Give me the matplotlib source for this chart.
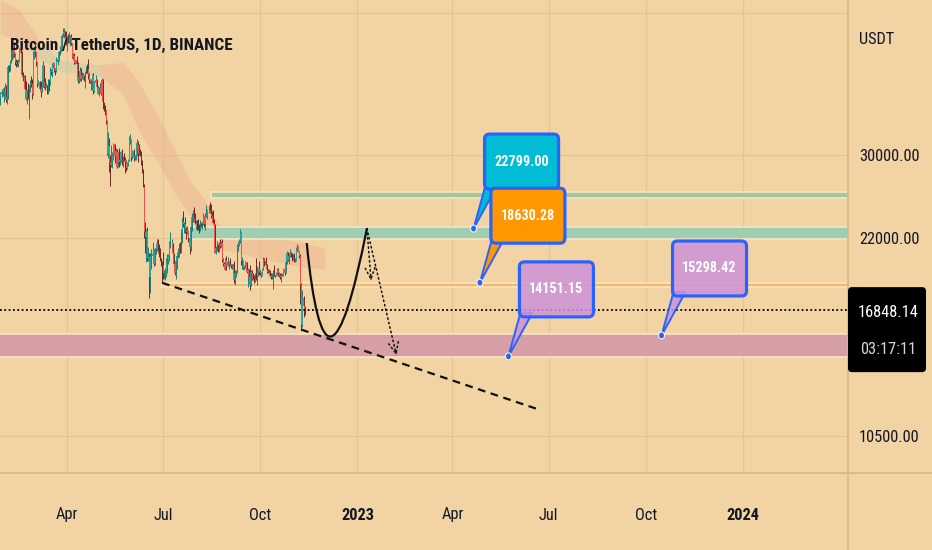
import numpy as np
import pandas as pd
import matplotlib
matplotlib.use("Agg")
import matplotlib.pyplot as plt
import matplotlib.dates as mdates
from matplotlib import font_manager
from matplotlib.colors import to_rgba
from matplotlib.lines import Line2D
from matplotlib.path import Path
from matplotlib.patches import FancyBboxPatch, Polygon, Rectangle, FancyArrowPatch, PathPatch, Ellipse
from matplotlib.ticker import FixedLocator, FixedFormatter, NullLocator
from matplotlib.transforms import IdentityTransform

# ---- daily BTC/USDT candles (thousands USDT), 2022-01-28 .. 2022-11-12 ----
first_open = 37.2
closes = [
    37.7, 37.9, 37.9, 38.5,
    38.7, 36.9, 37.3, 41.6, 41.4, 42.4, 43.8, 44.0, 44.4, 43.6, 42.4, 42.2, 42.1, 42.6,
    44.6, 43.9, 40.5, 40.0, 40.1, 38.4, 37.0, 38.2, 37.3, 38.3, 39.2, 39.1, 37.7, 43.2,
    44.4, 44.0, 42.5, 39.1, 39.4, 38.4, 37.9, 38.7, 41.9, 39.4, 38.7, 38.8, 37.8, 39.7, 39.3, 41.1,
    40.9, 41.8, 42.2, 41.3, 41.0, 42.4, 42.9, 44.0, 44.3, 44.5, 46.8, 47.1, 47.4, 47.1, 45.5,
    46.3, 45.8, 46.4, 46.6, 45.5, 43.2, 43.4, 42.3, 42.8, 42.2, 39.5, 40.1, 41.1, 39.9, 40.5,
    40.4, 39.7, 40.8, 41.5, 41.4, 40.5, 39.7, 39.4, 39.5, 40.4, 38.1, 39.2, 39.7, 38.6, 37.6,
    38.5, 38.5, 37.7, 39.7, 36.5, 36.0, 35.5, 34.0, 30.1, 31.0, 29.1, 28.9, 29.3, 30.1, 31.3, 29.9,
    30.4, 28.7, 30.3, 29.2, 29.4, 30.3, 29.1, 29.7, 29.5, 29.2, 28.6, 29.0, 29.4, 31.7, 31.8,
    29.8, 30.4, 29.7, 29.9, 29.9, 31.4, 31.1, 30.2, 30.1, 29.1, 28.4, 26.6, 22.5, 22.1, 22.6,
    20.4, 20.5, 19.0, 20.6, 20.6, 20.7, 20.0, 21.1, 21.2, 21.5, 21.0, 20.7, 20.3, 20.1, 19.9,
    19.3, 19.3, 19.3, 20.2, 20.2, 20.6, 21.6, 21.6, 21.6, 20.8, 20.0, 19.3, 20.2, 20.6, 20.8, 21.2,
    20.8, 22.4, 23.4, 23.2, 23.2, 22.7, 22.5, 22.6, 22.0, 21.3, 22.9, 23.8, 23.8, 23.6, 23.3,
    23.3, 23.0, 22.8, 22.6, 23.3, 23.2, 23.2, 23.8, 23.2, 23.9, 23.9, 24.4, 24.4, 24.3, 24.1, 23.9,
    23.3, 23.2, 20.8, 21.2, 21.5, 21.4, 21.5, 21.4, 21.6, 20.3, 20.0, 19.6, 20.3, 19.8, 20.1,
    20.1, 19.9, 19.8, 20.0, 19.8, 18.8, 19.3, 19.3, 21.4, 21.6, 21.8, 22.4, 20.2, 20.2, 19.7,
    19.8, 20.1, 19.4, 19.5, 19.0, 18.5, 19.4, 19.3, 18.9, 18.8, 19.2, 19.1, 19.4, 19.6, 19.4,
    19.3, 19.1, 19.6, 20.3, 20.2, 19.9, 19.5, 19.4, 19.4, 19.1, 19.0, 19.2, 19.4, 19.2, 19.1, 19.3,
    19.5, 19.3, 19.1, 19.0, 19.2, 19.2, 19.6, 19.3, 20.1, 20.8, 20.3, 20.6, 20.8, 20.6, 20.5,
    20.5, 20.2, 20.2, 21.1, 21.3, 20.9, 20.6, 18.5, 15.9, 17.6, 17.1, 16.84814,
]
highs = [
    38.0, 38.4, 38.4, 38.7,
    39.3, 38.9, 37.4, 41.9, 41.9, 42.7, 44.5, 45.5, 44.8, 45.8, 43.9, 43.0, 42.8, 42.9,
    44.8, 44.6, 44.2, 40.9, 40.4, 40.4, 39.5, 38.4, 39.3, 38.9, 39.7, 40.3, 39.9, 44.2,
    44.9, 45.4, 44.1, 42.5, 39.7, 39.6, 39.5, 39.4, 42.6, 41.9, 40.0, 39.3, 39.0, 39.9, 39.9, 41.7,
    41.4, 42.3, 42.4, 42.3, 41.5, 43.3, 43.0, 44.2, 45.0, 44.8, 46.9, 48.2, 48.1, 47.7, 47.6,
    46.7, 47.2, 47.4, 46.9, 47.2, 45.5, 43.9, 43.9, 42.8, 43.4, 42.4, 40.7, 41.6, 41.5, 40.9,
    40.7, 40.5, 41.1, 41.8, 42.2, 42.9, 40.8, 39.9, 39.9, 40.6, 40.8, 39.5, 40.4, 39.9, 38.8,
    38.7, 39.2, 38.6, 40.0, 39.8, 36.6, 36.1, 35.5, 34.2, 32.7, 32.0, 30.0, 31.1, 30.3, 31.4, 31.3,
    30.8, 30.7, 30.5, 30.8, 29.6, 30.5, 30.7, 29.9, 30.2, 29.8, 29.4, 29.2, 29.6, 32.2, 32.4,
    31.9, 30.6, 30.7, 30.0, 30.2, 31.8, 31.6, 31.3, 30.7, 30.4, 29.4, 28.5, 26.9, 23.4, 22.8,
    22.9, 21.3, 20.8, 20.8, 21.1, 21.7, 20.9, 21.2, 21.6, 21.9, 21.9, 21.5, 21.2, 20.4, 20.2,
    20.9, 19.5, 19.7, 20.4, 20.7, 20.7, 21.8, 22.5, 21.9, 21.6, 20.8, 20.0, 20.3, 20.9, 21.2, 21.6,
    21.7, 22.8, 23.8, 24.3, 23.4, 23.8, 22.9, 23.0, 22.7, 22.2, 23.0, 24.2, 24.4, 24.7, 24.2,
    23.5, 23.5, 23.6, 23.2, 23.5, 23.4, 23.4, 24.2, 23.9, 24.2, 24.9, 24.5, 24.9, 25.2, 25.0, 24.3,
    24.4, 23.6, 23.2, 21.4, 21.8, 21.5, 21.7, 21.9, 21.8, 21.9, 20.4, 20.1, 20.4, 20.6, 20.5,
    20.2, 20.4, 20.0, 20.0, 20.0, 20.2, 19.5, 19.5, 21.5, 21.8, 21.9, 22.8, 22.5, 20.5, 20.3,
    19.9, 20.2, 20.1, 19.7, 19.6, 19.9, 19.5, 19.5, 19.3, 19.2, 19.3, 20.4, 19.8, 19.7, 20.2,
    19.5, 19.4, 19.7, 20.5, 20.4, 20.5, 20.0, 19.6, 19.6, 19.5, 19.3, 19.3, 19.5, 19.9, 19.2, 19.4,
    19.7, 19.7, 19.4, 19.3, 19.3, 19.3, 19.7, 19.6, 20.4, 21.0, 20.9, 20.8, 21.1, 20.9, 20.8,
    20.7, 20.8, 20.4, 21.3, 21.5, 21.4, 21.0, 20.7, 18.6, 18.1, 17.7, 17.1,
]
lows = [
    36.2, 37.3, 37.4, 36.6,
    38.0, 36.6, 36.3, 37.0, 40.9, 41.1, 42.3, 42.7, 43.1, 43.2, 42.0, 41.7, 41.8, 41.6,
    42.4, 43.3, 40.1, 39.5, 39.6, 38.0, 36.8, 36.3, 37.0, 34.3, 38.0, 38.6, 37.0, 37.5,
    42.9, 43.3, 41.8, 38.6, 38.9, 38.1, 37.2, 37.9, 38.6, 38.5, 38.2, 38.6, 37.6, 37.6, 38.1, 38.9,
    40.5, 40.2, 41.5, 40.9, 40.5, 40.9, 41.9, 42.6, 43.6, 44.1, 44.4, 46.6, 46.5, 46.6, 45.2,
    44.2, 45.6, 45.5, 45.1, 45.3, 43.1, 42.7, 42.1, 42.1, 42.1, 39.2, 39.2, 39.5, 39.6, 39.8,
    39.9, 39.5, 38.5, 40.6, 40.8, 39.8, 39.2, 39.3, 38.2, 38.2, 37.7, 37.9, 38.9, 38.2, 37.6,
    37.4, 37.8, 37.5, 37.7, 35.6, 35.3, 34.8, 33.7, 30.0, 29.7, 28.2, 26.7, 28.7, 28.6, 29.5, 29.1,
    29.5, 28.6, 28.7, 28.7, 28.9, 29.2, 28.9, 28.7, 29.3, 28.0, 28.3, 28.5, 28.8, 29.3, 31.2,
    29.3, 29.6, 29.3, 29.5, 29.5, 29.9, 29.2, 30.0, 29.9, 28.9, 28.1, 26.6, 22.0, 20.8, 20.1,
    20.2, 20.2, 17.6, 17.9, 19.6, 20.3, 19.8, 19.9, 20.7, 21.0, 20.9, 20.5, 20.2, 19.8, 18.6,
    18.9, 18.9, 18.8, 19.0, 19.3, 20.0, 20.2, 21.2, 21.4, 20.6, 19.9, 19.2, 18.9, 19.6, 20.4, 20.5,
    20.8, 20.8, 21.6, 22.9, 22.4, 22.4, 21.9, 22.3, 21.7, 20.7, 21.0, 22.6, 23.4, 23.5, 23.2,
    22.8, 22.7, 22.7, 22.4, 22.6, 22.9, 22.8, 23.1, 22.9, 22.7, 23.8, 23.6, 24.2, 24.2, 23.7, 23.6,
    23.2, 23.1, 20.8, 20.7, 21.0, 20.9, 20.9, 21.2, 21.3, 20.1, 19.8, 19.6, 19.5, 19.5, 19.8,
    19.6, 19.8, 19.7, 19.6, 19.6, 18.6, 18.5, 19.0, 19.3, 21.0, 21.4, 21.6, 19.9, 19.6, 19.6,
    19.5, 19.7, 19.3, 18.3, 18.8, 18.1, 18.4, 18.8, 18.8, 18.6, 18.7, 18.8, 18.5, 19.1, 19.2,
    19.2, 19.0, 19.1, 19.5, 19.8, 19.9, 19.3, 19.3, 19.3, 19.0, 18.9, 18.9, 18.2, 19.1, 19.0, 19.1,
    19.2, 19.1, 19.0, 18.9, 18.7, 19.1, 19.1, 19.2, 19.3, 20.0, 20.2, 20.0, 20.5, 20.5, 20.2,
    20.3, 20.1, 20.1, 20.2, 21.0, 20.9, 20.4, 17.2, 15.6, 15.8, 16.4, 16.5,
]

# ---- cloud indicator band (thousands) ----
cloud_dates = ['2022-01-28', '2022-02-15', '2022-03-06', '2022-03-25', '2022-05-02', '2022-05-24',
               '2022-06-09', '2022-06-28', '2022-07-12', '2022-07-26', '2022-08-09', '2022-08-23',
               '2022-09-11', '2022-10-01', '2022-10-19', '2022-11-07', '2022-12-01']
cloud_top = [53.5, 51.6, 46.0, 42.7, 42.0, 42.4, 39.2, 34.2, 30.6, 27.3, 25.5, 23.1, 23.1, 22.7, 22.0, 21.7, 21.2]
cloud_bot = [47.2, 45.6, 43.0, 41.0, 40.3, 37.6, 32.6, 28.8, 26.0, 24.0, 22.9, 21.1, 20.8, 20.4, 20.1, 19.8, 19.6]

# ---- horizontal zones: (start date, low, high) in USDT ----
zone_starts = ['2022-08-15', '2022-07-26', '2022-06-30', '2021-12-01']
zone_lows = [25530, 21900, 18310, 14120]
zone_highs = [26160, 22960, 18630, 15380]
zone_colors = ['#a6c899', '#9fceb0', '#f3b967', '#d69ea5']

# ---- drawings ----
trend_dates = ['2022-06-30', '2023-06-23']
trend_prices = [18626, 11587]
curve_dates = ['2022-11-14', '2022-12-02', '2023-01-10']   # start, control, end
curve_prices = [21600, 10470, 22799]
arrow_ends_dates = ['2023-01-14', '2023-02-07']
arrow_ends_prices = [18750, 14200]

callout_dates = ['2023-04-21', '2023-04-27', '2023-05-24', '2023-10-16']
callout_prices = [22799.00, 18630.28, 14151.15, 15298.42]
callout_colors = ['#00bcd4', '#ff9800', '#ce93d8', '#ce93d8']
callout_alpha = [1.0, 1.0, 0.85, 0.85]

last_price = 16848.14
timer = '03:17:11'
title = 'Bitcoin / TetherUS, 1D, BINANCE'

ytick_values = [10500, 22000, 30000, 51000]
ytick_labels = ['10500.00', '22000.00', '30000.00', '']
xtick_dates = ['2022-04-01', '2022-07-01', '2022-10-01', '2023-01-01',
               '2023-04-01', '2023-07-01', '2023-10-01', '2024-01-01']
xtick_labels = ['Apr', 'Jul', 'Oct', '2023', 'Apr', 'Jul', 'Oct', '2024']

BG = '#f2d3a4'
GRID = '#e7c693'
SEP = '#d9b683'
UP = '#26a69a'
DN = '#ef5350'
BLUE = '#2962ff'
INK = '#131722'


def pick_font():
    names = {f.name for f in font_manager.fontManager.ttflist}
    for n in ['Liberation Sans Narrow', 'Roboto Condensed', 'Open Sans Condensed']:
        if n in names:
            return n, 'normal'
    for f in font_manager.fontManager.ttflist:
        if f.name == 'DejaVu Sans' and f.stretch == 'condensed':
            return 'DejaVu Sans', 'condensed'
    return 'Liberation Sans' if 'Liberation Sans' in names else 'DejaVu Sans', 'normal'


FONT, STRETCH = pick_font()

W, H, DPI = 932, 550, 100
fig = plt.figure(figsize=(W / DPI, H / DPI), dpi=DPI, facecolor=BG)
ax = fig.add_axes([0, 77 / H, 848 / W, 473 / H])
ax.set_facecolor(BG)
renderer = fig.canvas.get_renderer()


def fit(s, px, weight='normal'):
    t = fig.text(0, 0, s, fontsize=10, family=FONT, fontweight=weight, fontstretch=STRETCH)
    w = t.get_window_extent(renderer).width
    t.remove()
    return 10 * px / w


title_fs = fit(title, 222, 'bold')
tick_fs = fit('30000.00', 60)
call_fs = fit('22799.00', 54, 'bold')

dates = pd.date_range('2022-01-28', periods=len(closes), freq='D')
x = mdates.date2num(dates)
c = np.array(closes) * 1000
o = np.r_[first_open, closes[:-1]] * 1000
h = np.maximum(np.array(highs) * 1000, np.maximum(o, c))
l = np.minimum(np.array(lows) * 1000, np.minimum(o, c))
up = c >= o

ax.set_yscale('log')
ax.set_xlim(mdates.date2num(pd.Timestamp('2022-01-27 13:00')), mdates.date2num(pd.Timestamp('2024-04-09 14:00')))
ax.set_ylim(9158, 53496)

# cloud
cd = mdates.date2num(pd.to_datetime(cloud_dates))
ct = np.array(cloud_top) * 1000
cb = np.array(cloud_bot) * 1000
ax.fill_between(cd[:3], cb[:3], ct[:3], color='#eea98a', alpha=0.35, lw=0, zorder=1)
ax.fill_between(cd[2:5], cb[2:5], ct[2:5], color='#b9c7a4', alpha=0.35, lw=0, zorder=1)
ax.fill_between(cd[4:], cb[4:], ct[4:], color='#eea98a', alpha=0.35, lw=0, zorder=1)

# zones
far = mdates.date2num(pd.Timestamp('2024-12-31'))
for s, lo, hi, col in zip(zone_starts, zone_lows, zone_highs, zone_colors):
    x0 = mdates.date2num(pd.Timestamp(s))
    ax.add_patch(Rectangle((x0, lo), far - x0, hi - lo, facecolor=col, edgecolor='#f8e4c6',
                           lw=1.2, zorder=2))

# candles
ax.vlines(x, l, h, colors=np.where(up, '#1f7f74', '#6a2a25'), lw=0.7, zorder=3)
ax.bar(x[up], (c - o)[up], bottom=o[up], width=0.8, color=UP, lw=0, zorder=3.2)
ax.bar(x[~up], (o - c)[~up], bottom=c[~up], width=0.8, color=DN, lw=0, zorder=3.2)

# current price line
ax.axhline(last_price, color='black', lw=1.3, ls=(0, (1, 1.4)), zorder=4)

# trend line
ax.plot(mdates.date2num(pd.to_datetime(trend_dates)), trend_prices, color='#111111',
        lw=1.6, ls=(0, (3.5, 2.5)), zorder=4)

# curve (quadratic bezier)
cv = list(zip(mdates.date2num(pd.to_datetime(curve_dates)), curve_prices))
ax.add_patch(PathPatch(Path(cv, [Path.MOVETO, Path.CURVE3, Path.CURVE3]), fill=False,
                       edgecolor='#111111', lw=1.6, zorder=4))

# dotted arrows from the curve's top
peak = (mdates.date2num(pd.Timestamp(curve_dates[2])), curve_prices[2])
for d, p in zip(arrow_ends_dates, arrow_ends_prices):
    ax.add_patch(FancyArrowPatch(peak, (mdates.date2num(pd.Timestamp(d)), p),
                                 arrowstyle='->,head_length=8,head_width=3.5', mutation_scale=1,
                                 shrinkA=0, shrinkB=0, color='#111111', lw=1.1,
                                 ls=(0, (1, 2)), zorder=4))

# axes styling
ax.xaxis.set_major_locator(FixedLocator(mdates.date2num(pd.to_datetime(xtick_dates))))
ax.xaxis.set_major_formatter(FixedFormatter(xtick_labels))
ax.yaxis.tick_right()
ax.yaxis.set_major_locator(FixedLocator(ytick_values))
ax.yaxis.set_major_formatter(FixedFormatter(ytick_labels))
ax.yaxis.set_minor_locator(NullLocator())
ax.tick_params(axis='both', length=0, labelsize=tick_fs, labelcolor=INK)
ax.tick_params(axis='x', pad=42 * 72 / DPI)
ax.tick_params(axis='y', pad=11 * 72 / DPI)
ax.grid(True, color=GRID, lw=1, zorder=0)
ax.set_axisbelow(True)
for sp in ax.spines.values():
    sp.set_visible(False)
for lab in ax.get_xticklabels() + ax.get_yticklabels():
    lab.set_family(FONT)
    lab.set_fontstretch(STRETCH)
for lab in ax.get_xticklabels():
    lab.set_va('center')
    if lab.get_text().isdigit():
        lab.set_fontweight('bold')

# separators
idt = IdentityTransform()
fig.add_artist(Line2D([0, W], [77, 77], transform=idt, color=SEP, lw=1.2))
fig.add_artist(Line2D([848, 848], [0, H], transform=idt, color=SEP, lw=1.2))

fig.text(10, H - 45, title, transform=idt, ha='left', va='center', fontsize=title_fs,
         fontweight='bold', family=FONT, fontstretch=STRETCH, color=INK, zorder=30)
fig.text(859, H - 40, 'USDT', transform=idt, ha='left', va='center', fontsize=tick_fs,
         family=FONT, fontstretch=STRETCH, color=INK)

# callouts
for i, (d, p, col, a) in enumerate(zip(callout_dates, callout_prices, callout_colors, callout_alpha)):
    px, py = ax.transData.transform((mdates.date2num(pd.Timestamp(d)), p))
    z = 10 + 4 * i
    bw, bh = 74, 55
    left, bottom = px + 48 - bw / 2, py + 67 - bh / 2
    fig.add_artist(Polygon([(px, py), (left + 1, bottom + 4), (left + 13, bottom + 4)], closed=True,
                           transform=idt, facecolor=to_rgba(col, a), edgecolor=BLUE, lw=1.4, zorder=z))
    fig.add_artist(FancyBboxPatch((left, bottom), bw, bh, boxstyle='round,pad=0,rounding_size=5',
                                  transform=idt, facecolor=to_rgba(col, a), edgecolor=BLUE, lw=2.3,
                                  zorder=z + 1))
    fig.text(left + bw / 2, bottom + bh / 2, f'{p:.2f}', transform=idt, ha='center', va='center',
             fontsize=call_fs, fontweight='bold', family=FONT, fontstretch=STRETCH,
             color='white', zorder=z + 2)
    fig.add_artist(Ellipse((px, py), 6, 7, transform=idt, facecolor=BLUE, edgecolor='#fff1dc',
                           lw=0.8, zorder=z + 3))

# last price tag
lx, ly = ax.transData.transform((x[-1], last_price))
fig.add_artist(FancyBboxPatch((848, ly - 62.5), 78, 85, boxstyle='round,pad=0,rounding_size=4',
                              transform=idt, facecolor='black', edgecolor='none', zorder=30))
fig.text(888, ly - 2.5, f'{last_price:.2f}', transform=idt, ha='center', va='center', fontsize=tick_fs,
         family=FONT, fontstretch=STRETCH, color='white', zorder=31)
fig.text(888, ly - 40, timer, transform=idt, ha='center', va='center', fontsize=tick_fs,
         family=FONT, fontstretch=STRETCH, color='#d6d6d6', zorder=31)

fig.savefig('out.png', dpi=DPI, facecolor=BG)
